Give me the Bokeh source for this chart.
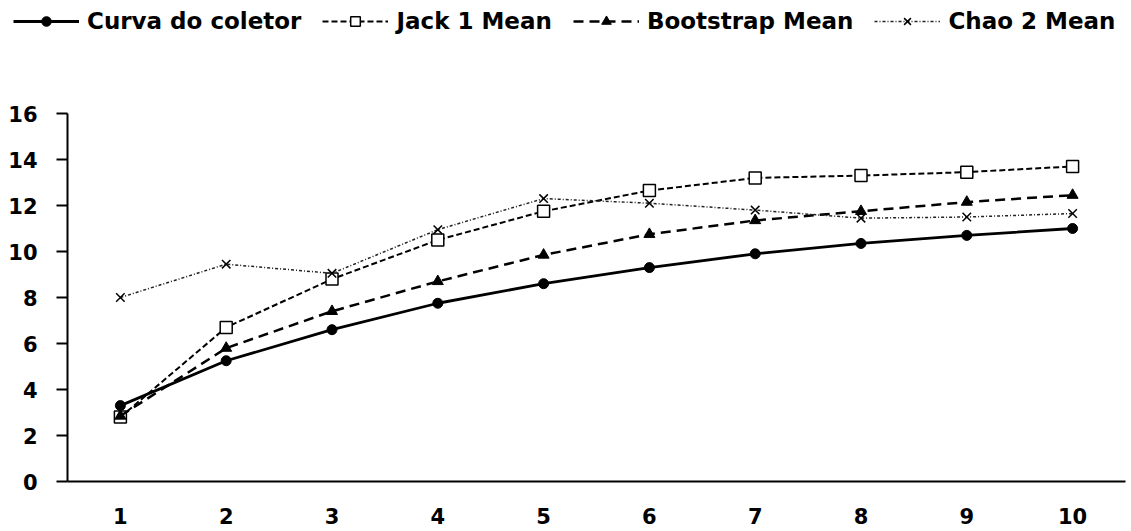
from bokeh.plotting import figure
from bokeh.models import Legend, LegendItem, FixedTicker, Range1d
from bokeh.embed import file_html
from bokeh.resources import INLINE

samples = [1, 2, 3, 4, 5, 6, 7, 8, 9, 10]
x_tick_labels = ["1", "2", "3", "4", "5", "6", "7", "8", "9", "10"]
y_ticks = [0, 2, 4, 6, 8, 10, 12, 14, 16]

coletor = [3.3, 5.25, 6.6, 7.75, 8.6, 9.3, 9.9, 10.35, 10.7, 11.0]
jack1 = [2.8, 6.7, 8.8, 10.5, 11.75, 12.65, 13.2, 13.3, 13.45, 13.7]
bootstrap = [2.85, 5.8, 7.4, 8.7, 9.85, 10.75, 11.35, 11.75, 12.15, 12.45]
chao2 = [8.0, 9.45, 9.05, 10.95, 12.3, 12.1, 11.8, 11.45, 11.5, 11.65]

names = ["Curva do coletor", "Jack 1 Mean", "Bootstrap Mean", "Chao 2 Mean"]

FONT = "DejaVu Sans"

W, H = 1131, 531
# axis box in pixels (layout): left, right, top, bottom
AX_L, AX_R, AX_T, AX_B = 67, 1125, 113, 481
X_MIN, X_MAX = 0.5, 10.5
Y_MIN, Y_MAX = 0, 16
xs = (AX_R - AX_L) / (X_MAX - X_MIN)
ys = (AX_B - AX_T) / (Y_MAX - Y_MIN)

p = figure(width=W, height=H, output_backend="svg", toolbar_location=None,
           x_range=Range1d(X_MIN - AX_L / xs, X_MAX + (W - AX_R) / xs),
           y_range=Range1d(Y_MIN - (H - AX_B) / ys, Y_MAX + AX_T / ys),
           min_border_left=0, min_border_right=0, min_border_top=0, min_border_bottom=0)
p.outline_line_color = None
p.grid.visible = False
p.background_fill_color = "white"
p.border_fill_color = "white"

l1 = p.line(samples, coletor, line_color="black", line_width=2.8)
m1 = p.scatter(samples, coletor, marker="circle", size=10, fill_color="black", line_color="black")
l2 = p.line(samples, jack1, line_color="black", line_width=2, line_dash="6 3")
m2 = p.scatter(samples, jack1, marker="square", size=12, fill_color="white", line_color="black", line_width=1.5)
l3 = p.line(samples, bootstrap, line_color="black", line_width=2.5, line_dash="10 6")
m3 = p.scatter(samples, bootstrap, marker="triangle", size=11, fill_color="black", line_color="black")
l4 = p.line(samples, chao2, line_color="#222222", line_width=1.5, line_dash="3 2 1 2")
m4 = p.scatter(samples, chao2, marker="x", size=12, line_color="black", line_width=1.5)

# axes drawn at fixed positions inside the full-canvas frame
xa = p.xaxis[0]
xa.fixed_location = Y_MIN
xa.bounds = (X_MIN, X_MAX)
xa.ticker = FixedTicker(ticks=samples)
xa.major_label_overrides = {s: t for s, t in zip(samples, x_tick_labels)}
xa.major_tick_out = 0
xa.major_tick_in = 0
xa.minor_tick_line_color = None
xa.axis_line_width = 2
xa.axis_line_color = "black"
xa.major_label_standoff = 26
xa.major_label_text_font = FONT
xa.major_label_text_font_style = "bold"
xa.major_label_text_font_size = "21px"
xa.major_label_text_color = "black"

ya = p.yaxis[0]
ya.fixed_location = X_MIN
ya.bounds = (Y_MIN, Y_MAX)
ya.ticker = FixedTicker(ticks=y_ticks)
ya.major_tick_out = 11
ya.major_tick_in = 0
ya.major_tick_line_width = 2
ya.major_tick_line_color = "black"
ya.minor_tick_line_color = None
ya.axis_line_width = 2
ya.axis_line_color = "black"
ya.major_label_standoff = 19
ya.major_label_text_font = FONT
ya.major_label_text_font_style = "bold"
ya.major_label_text_font_size = "21px"
ya.major_label_text_color = "black"

legend = Legend(items=[
    LegendItem(label=names[0], renderers=[l1, m1]),
    LegendItem(label=names[1], renderers=[l2, m2]),
    LegendItem(label=names[2], renderers=[l3, m3]),
    LegendItem(label=names[3], renderers=[l4, m4]),
], orientation="horizontal", location=(13, H - 34))
legend.glyph_width = 66
legend.glyph_height = 24
legend.label_height = 24
legend.label_standoff = 8
legend.spacing = 21
legend.padding = 0
legend.margin = 0
legend.border_line_color = None
legend.background_fill_alpha = 0
legend.label_text_font = FONT
legend.label_text_font_style = "bold"
legend.label_text_font_size = "23px"
legend.label_text_color = "black"
p.add_layout(legend, "center")

open("out.html", "w").write(file_html(p, INLINE))
